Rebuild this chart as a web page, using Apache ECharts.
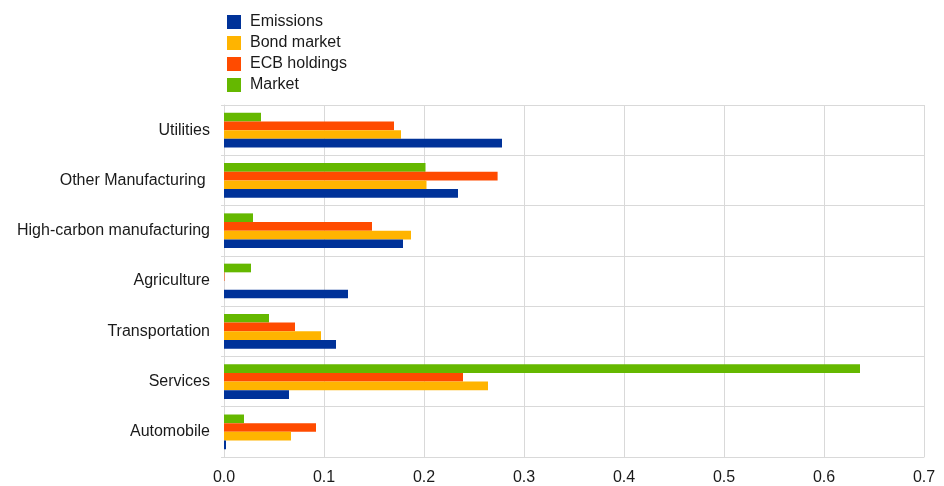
<!DOCTYPE html>
<html>
<head>
<meta charset="utf-8">
<script src="https://cdn.jsdelivr.net/npm/echarts@6/dist/echarts.min.js"></script>
<style>html,body{margin:0;padding:0;background:#fff;}#c{width:944px;height:486px;}</style>
</head>
<body>
<div id="c"></div>
<script>
const categories = ['Automobile', 'Services', 'Transportation', 'Agriculture', 'High-carbon manufacturing', 'Other Manufacturing ', 'Utilities'];
const emissions   = [0.002, 0.065, 0.112, 0.124, 0.179, 0.234, 0.278];
const bondMarket  = [0.067, 0.264, 0.097, 0.0,   0.187, 0.2025, 0.177];
const ecbHoldings = [0.092, 0.239, 0.071, 0.0005, 0.148, 0.2736, 0.170];
const market      = [0.020, 0.636, 0.045, 0.027, 0.029, 0.2015, 0.037];
const xTicks = [0, 0.1, 0.2, 0.3, 0.4, 0.5, 0.6, 0.7];

const font = 'Liberation Sans, Arial, sans-serif';
const chart = echarts.init(document.getElementById('c'), null, {renderer: 'canvas'});
function s(name, data, color) {
  return {name, type: 'bar', data, barGap: '0%', barCategoryGap: '31%',
    itemStyle: {color}, emphasis: {disabled: true}};
}
chart.setOption({
  animation: false,
  textStyle: {fontFamily: font},
  legend: {
    orient: 'vertical', left: 222, top: 9,
    itemWidth: 14, itemHeight: 14, itemGap: 5,
    icon: 'rect',
    textStyle: {fontSize: 16, color: '#1a1a1a', fontFamily: font, padding: [0, 0, 0, 4]},
    data: ['Emissions', 'Bond market', 'ECB holdings', 'Market']
  },
  grid: {left: 224, right: 20, top: 105, bottom: 28, containLabel: false},
  xAxis: {
    type: 'value', min: 0, max: 0.7, interval: 0.1,
    axisLine: {show: true, lineStyle: {color: '#d9d9d9'}},
    axisTick: {show: false},
    splitLine: {show: true, lineStyle: {color: '#d9d9d9', width: 1}},
    axisLabel: {fontSize: 16, color: '#1a1a1a', margin: 13, fontFamily: font,
      formatter: v => { const t = xTicks.find(x => Math.abs(x - v) < 1e-9); return t === 0 ? '0.0' : String(t); }}
  },
  yAxis: {
    type: 'category', data: categories,
    axisLine: {show: true, lineStyle: {color: '#d9d9d9'}},
    axisTick: {show: true, length: 3, lineStyle: {color: '#d9d9d9'}},
    splitLine: {show: true, lineStyle: {color: '#d9d9d9', width: 1}},
    axisLabel: {fontSize: 16, color: '#1a1a1a', margin: 14, fontFamily: font}
  },
  series: [
    s('Market', market, '#65B800'),
    s('ECB holdings', ecbHoldings, '#FF4B00'),
    s('Bond market', bondMarket, '#FFB400'),
    s('Emissions', emissions, '#003299')
  ]
});
</script>
</body>
</html>
